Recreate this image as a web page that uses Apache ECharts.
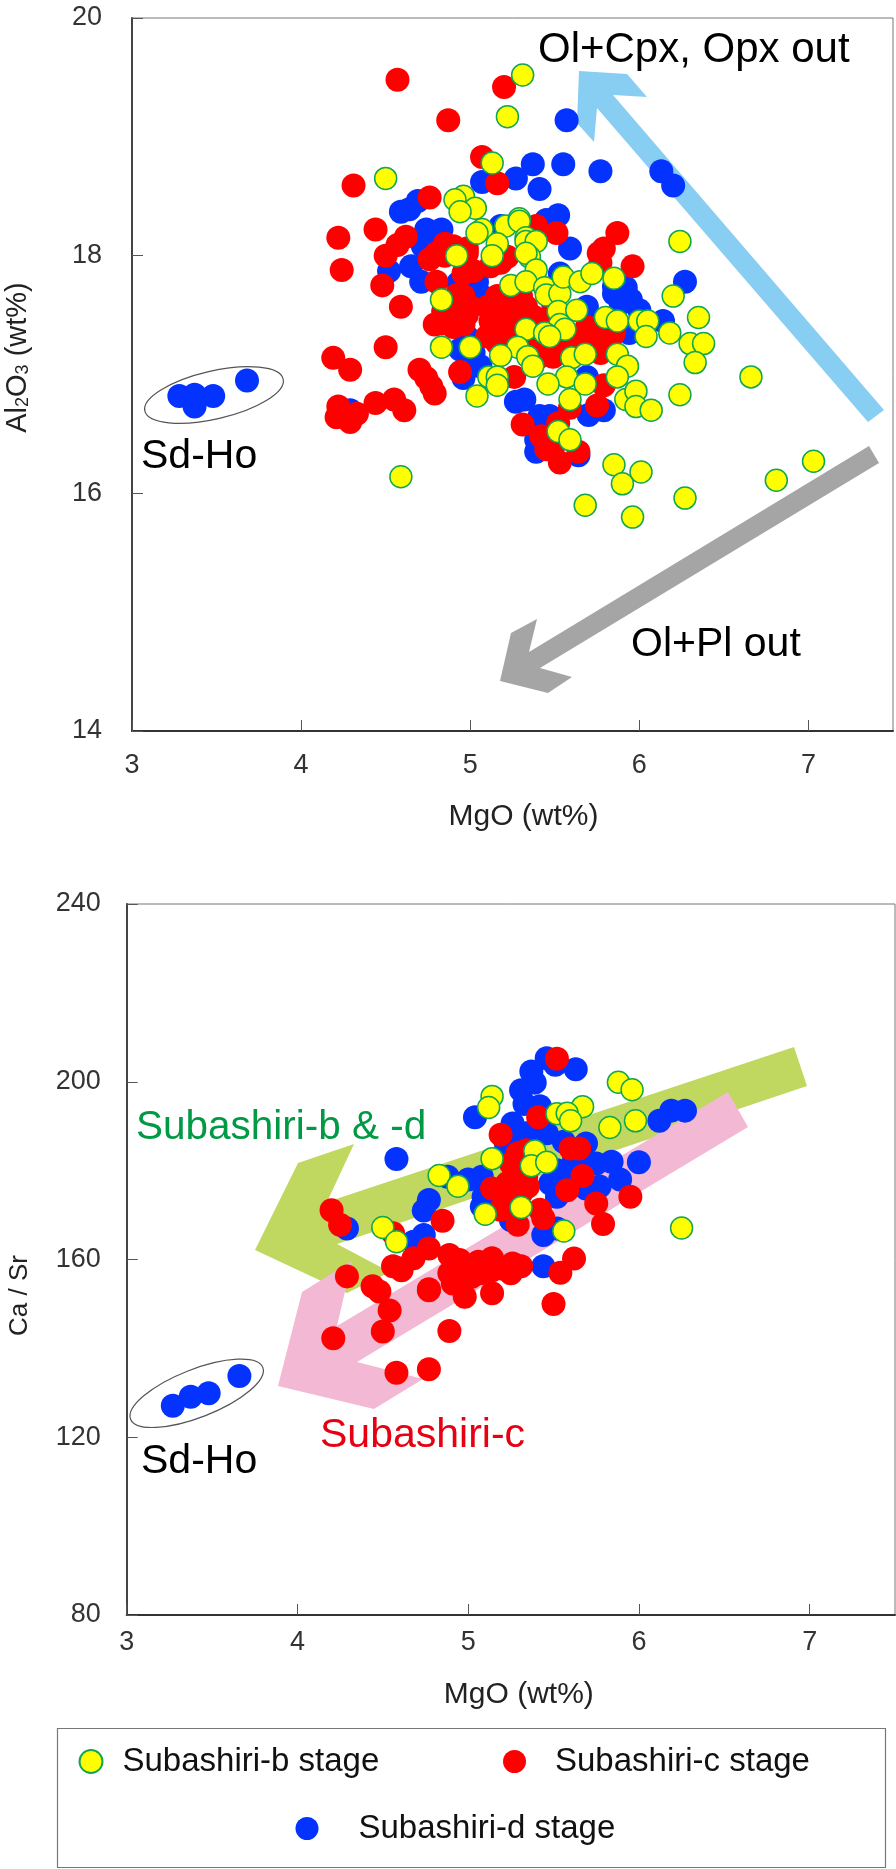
<!DOCTYPE html>
<html><head><meta charset="utf-8">
<style>html,body{margin:0;padding:0;background:#fff}#c{width:896px;height:1869px}</style>
<script src="https://cdn.jsdelivr.net/npm/echarts@6/dist/echarts.min.js"></script>
</head><body><div id="c"></div>
<script>
const xTicks=[3,4,5,6,7];
const yTicksAl=[14,16,18,20];
const yTicksCa=[80,120,160,200,240];
const stages=['Subashiri-b stage','Subashiri-c stage','Subashiri-d stage'];

// Upper panel: MgO (wt%), Al2O3 (wt%)
const alB=[[5.31,19.52],[5.22,19.17],[5.13,18.78],[4.50,18.65],[6.24,18.12],[4.96,18.50],[4.91,18.47],[5.03,18.40],[4.94,18.37],[5.07,18.22],[5.04,18.19],[5.21,18.25],[5.29,18.31],[5.29,18.29],[5.16,18.10],[5.13,18.00],[5.33,18.15],[5.33,18.12],[5.39,18.12],[5.35,17.99],[5.33,18.02],[5.39,17.88],[4.92,18.00],[5.24,17.75],[5.33,17.78],[5.44,17.73],[5.45,17.67],[5.53,17.68],[5.55,17.82],[5.65,17.78],[5.72,17.85],[5.85,17.81],[6.20,17.66],[4.83,17.63],[5.52,17.53],[5.63,17.54],[6.35,17.48],[5.80,17.48],[5.87,17.45],[6.00,17.45],[6.05,17.45],[6.18,17.35],[6.04,17.32],[5.53,17.42],[5.56,17.38],[5.33,17.38],[5.44,17.35],[5.47,17.32],[6.30,17.26],[6.38,17.26],[6.33,17.10],[4.83,17.23],[5.00,17.23],[5.28,17.23],[5.34,17.15],[5.37,17.07],[5.18,17.16],[5.60,17.14],[5.68,17.17],[5.87,17.17],[5.93,17.07],[5.87,16.98],[5.57,16.98],[5.68,16.92],[5.46,16.92],[5.11,16.98],[5.16,16.98],[5.16,16.91],[5.04,16.82],[6.24,16.83],[5.59,16.79],[5.92,16.79],[5.98,16.86],[5.98,16.73],[6.07,16.70],[5.52,16.52],[5.59,16.45],[5.85,16.24],[6.01,16.18],[5.90,16.08],[4.59,16.14],[5.68,15.90],[5.96,15.80],[6.27,15.96],[6.81,16.11],[7.03,16.27],[6.66,16.98]];
const alC=[[4.57,19.48],[5.20,19.42],[4.87,19.14],[5.07,18.83],[5.16,18.61],[4.31,18.59],[4.76,18.49],[4.44,18.22],[4.22,18.15],[4.62,18.16],[4.57,18.09],[4.50,18.00],[4.24,17.88],[4.48,17.75],[4.59,17.57],[5.39,18.25],[5.51,18.19],[5.87,18.19],[5.79,18.06],[5.76,18.02],[5.77,17.94],[5.96,17.91],[4.85,18.10],[4.98,18.06],[4.76,17.97],[4.85,18.00],[4.80,17.78],[5.02,17.87],[5.12,17.91],[5.22,17.99],[4.50,17.23],[4.19,17.14],[4.29,17.04],[4.70,17.04],[4.74,16.97],[4.79,16.84],[4.77,16.90],[4.94,17.02],[4.22,16.73],[4.21,16.64],[4.29,16.60],[4.33,16.67],[4.44,16.76],[4.55,16.79],[4.61,16.70],[4.96,17.66],[4.90,17.60],[4.98,17.50],[4.83,17.43],[4.96,17.42],[4.90,17.40],[4.86,17.50],[5.16,17.66],[5.12,17.45],[5.22,17.54],[5.33,17.57],[5.37,17.49],[5.16,17.26],[5.24,17.32],[5.41,17.23],[5.49,17.15],[5.53,17.18],[5.69,17.40],[5.81,17.46],[5.85,17.35],[5.77,17.18],[5.63,17.32],[5.26,16.98],[5.79,16.91],[5.75,16.74],[5.59,16.72],[5.31,16.58],[5.42,16.48],[5.52,16.59],[5.64,16.35],[5.53,16.26],[5.49,16.39],[5.45,16.37],[5.22,17.40],[5.30,17.46],[5.47,17.49],[5.57,17.29],[4.84,17.53],[4.92,17.67],[5.00,17.57],[4.79,17.42],[5.10,17.57],[5.18,17.49],[5.10,17.32],[5.30,17.66],[5.39,17.40],[5.33,17.29],[5.65,17.29],[5.73,17.32],[5.83,17.23],[5.69,17.23],[5.41,17.15],[4.90,18.08],[4.80,18.02],[4.98,18.02],[4.96,17.85],[5.18,17.94]];
const alD=[[3.28,16.82],[3.37,16.83],[3.48,16.82],[3.37,16.73],[3.68,16.95],[5.57,19.14],[5.37,18.77],[5.55,18.77],[5.77,18.71],[6.13,18.71],[6.20,18.59],[5.27,18.65],[5.07,18.62],[5.41,18.56],[4.69,18.46],[4.59,18.37],[4.64,18.39],[5.52,18.34],[5.59,18.06],[6.27,17.78],[4.74,18.22],[4.83,18.22],[4.72,18.08],[4.78,18.13],[4.52,17.87],[4.65,17.91],[4.71,17.78],[4.93,17.77],[5.04,17.78],[5.69,17.57],[6.00,17.54],[6.14,17.45],[5.85,17.74],[5.92,17.73],[5.95,17.63],[5.89,17.60],[5.18,18.25],[5.45,18.30],[5.53,17.85],[5.85,17.68],[5.94,17.35],[4.98,17.32],[4.94,17.21],[4.96,16.97],[5.02,17.18],[5.06,17.07],[5.69,16.98],[5.27,16.77],[5.32,16.79],[5.41,16.65],[5.47,16.65],[5.70,16.66],[5.79,16.70],[5.39,16.35],[5.64,16.32],[5.39,16.45],[4.29,16.70],[5.06,17.67],[5.26,17.65],[5.49,17.60]];

// Lower panel: MgO (wt%), Ca / Sr
const caB=[[5.14,196.7],[5.12,194.2],[5.88,199.9],[5.96,198.2],[5.67,194.4],[5.52,192.8],[5.58,192.9],[5.60,191.2],[5.83,189.7],[5.98,191.2],[5.39,184.4],[5.14,182.7],[5.37,181.1],[5.46,181.9],[4.83,178.9],[4.94,176.5],[5.10,170.2],[5.31,171.7],[5.56,166.4],[6.25,167.1],[4.50,167.2],[4.58,164.0]];
const caC=[[5.52,205.2],[5.41,192.0],[5.19,188.1],[5.60,185.0],[5.65,185.0],[5.34,184.6],[5.67,178.8],[5.58,175.6],[5.28,182.4],[5.27,179.4],[5.35,176.4],[5.14,176.0],[5.21,174.1],[5.19,171.2],[5.42,171.2],[5.44,169.3],[5.29,167.8],[5.75,172.6],[5.95,174.1],[5.79,168.0],[4.85,168.7],[5.62,160.2],[5.54,157.0],[5.50,150.0],[5.14,152.4],[4.98,151.6],[4.77,153.1],[4.77,162.5],[4.68,160.3],[4.60,158.0],[4.89,161.0],[4.95,159.9],[5.06,159.5],[5.14,160.3],[5.26,159.1],[5.31,158.5],[5.25,156.9],[5.14,157.6],[5.02,156.1],[4.91,156.1],[4.91,154.6],[4.96,158.0],[4.56,165.9],[4.20,171.1],[4.25,167.8],[4.56,158.5],[4.61,157.6],[4.29,156.2],[4.44,154.0],[4.48,152.8],[4.54,148.5],[4.50,143.8],[4.21,142.3],[4.89,143.9],[4.58,134.5],[4.77,135.3],[4.77,153.3],[5.25,181.6],[5.29,177.9],[5.34,178.6],[5.23,177.2],[5.31,174.9],[5.19,175.6],[5.27,173.4],[5.29,183.9],[5.02,158.4],[4.89,156.9],[5.07,156.9],[5.19,158.0]];
const caD=[[3.27,127.1],[3.375,129.1],[3.48,129.9],[3.66,133.8],[5.46,205.3],[5.63,202.8],[5.51,203.8],[5.37,202.3],[5.39,199.8],[5.31,198.1],[5.33,195.0],[5.42,194.5],[5.04,192.0],[5.26,190.6],[6.12,191.2],[6.19,193.5],[6.27,193.5],[6.00,181.9],[5.84,182.0],[5.89,178.0],[5.77,176.4],[5.69,176.0],[5.69,186.1],[5.56,186.5],[5.46,188.4],[5.34,188.4],[5.22,186.2],[5.75,181.6],[5.62,182.4],[5.52,180.1],[5.52,174.1],[5.48,177.1],[5.60,179.4],[5.44,165.5],[5.52,167.0],[5.44,158.5],[5.08,178.6],[5.00,178.0],[4.88,178.6],[5.09,174.1],[5.08,171.9],[5.25,168.9],[4.77,173.4],[4.74,171.0],[4.74,165.5],[4.68,164.0],[4.58,182.6],[4.29,167.0]];

const chart=echarts.init(document.getElementById('c'),null,{renderer:'canvas'});
const FONT='"Liberation Sans", Helvetica, Arial, sans-serif';
const COL={b:'#ffff00',bb:'#12a650',c:'#ff0000',d:'#0433ff'};

function xAxis(i,margin,nameGap,pad){return {
  gridIndex:i,type:'value',min:3,max:7.5,interval:1,name:'MgO (wt%)',nameLocation:'middle',nameGap:nameGap,
  nameTextStyle:{fontFamily:FONT,fontSize:30,color:'#222',padding:pad},
  axisLine:{show:true,onZero:false,lineStyle:{color:'#333',width:2}},
  axisTick:{show:true,inside:true,length:11,lineStyle:{color:'#555',width:1},customValues:xTicks},
  axisLabel:{margin:margin,fontFamily:FONT,fontSize:27,color:'#333',customValues:xTicks},
  splitLine:{show:false}};}
function yAxis(i,min,max,interval,ticks,name,size,margin,nameGap,pad){return {
  gridIndex:i,type:'value',min:min,max:max,interval:interval,name:name,nameLocation:'middle',nameGap:nameGap,
  nameTextStyle:{fontFamily:FONT,fontSize:size,color:'#222',padding:pad,rich:{sub:{fontFamily:FONT,fontSize:18,color:'#222',verticalAlign:'bottom',padding:[0,0,0,0]}}},
  axisLine:{show:true,onZero:false,lineStyle:{color:'#444',width:2}},
  axisTick:{show:true,inside:true,length:11,lineStyle:{color:'#555',width:1},customValues:ticks},
  axisLabel:{margin:margin,fontFamily:FONT,fontSize:27,color:'#333',customValues:ticks},
  splitLine:{show:false}};}
function series(name,i,data,kind){
  const st=kind==='b'?{color:COL.b,borderColor:COL.bb,borderWidth:1.5,opacity:1}:{color:COL[kind],opacity:1};
  return {name:name,type:'scatter',xAxisIndex:i,yAxisIndex:i,data:data,symbol:'circle',symbolSize:kind==='b'?22:24,itemStyle:st,z:kind==='b'?5:(kind==='c'?4:3),silent:true};
}
function poly(points,fill){return {type:'polygon',z:-1,silent:true,shape:{points:points},style:{fill:fill}};}
function ell(cx,cy,deg){return {type:'ellipse',z:-1,silent:true,x:cx,y:cy,rotation:deg*Math.PI/180,shape:{cx:0,cy:0,rx:71,ry:24},style:{fill:'none',stroke:'#555',lineWidth:1.2}};}
function txt(s,x,baseline,size,fill){return {type:'text',z:1,silent:true,x:x,y:baseline-0.28*size,style:{text:s,font:size+'px '+FONT,fill:fill,textVerticalAlign:'middle',textAlign:'left'}};}
function legend(i,left,top,pad){return {data:[stages[i]],left:left,top:top,padding:0,itemWidth:23,itemHeight:23,icon:'circle',selectedMode:false,itemStyle:{opacity:1},textStyle:{fontFamily:FONT,fontSize:33,color:'#111',padding:[8,0,0,pad]}};}

chart.setOption({
  animation:false,backgroundColor:'#fff',
  grid:[
    {left:132,top:18,width:761,height:713,show:true,borderColor:'#777',borderWidth:1,backgroundColor:'transparent',outerBoundsMode:'none'},
    {left:126.7,top:904,width:768.3,height:711,show:true,borderColor:'#777',borderWidth:1,backgroundColor:'transparent',outerBoundsMode:'none'}],
  xAxis:[xAxis(0,21,71,[0,0,0,22]),xAxis(1,14,65,[0,0,0,16])],
  yAxis:[
    yAxis(0,14,20,2,yTicksAl,'Al{sub|2}O{sub|3} (wt%)',29,30,100,[0,0,0,34]),
    yAxis(1,80,240,40,yTicksCa,'Ca / Sr',26,26,94,[0,72,0,0])],
  legend:[legend(0,78.5,1745,15),legend(1,503,1745,24),legend(2,295.5,1812,35)],
  series:[
    series(stages[2],0,alD,'d'),series(stages[1],0,alC,'c'),series(stages[0],0,alB,'b'),
    series(stages[2],1,caD,'d'),series(stages[1],1,caC,'c'),series(stages[0],1,caB,'b')],
  graphic:{elements:[
    poly([[579,71],[627,74],[647,97],[613,95],[884,410],[868,422],[597,108],[594,142],[577,123]],'#88cdf2'),
    poly([[869,446],[879,463],[540,668],[572,677],[548,693],[500,681],[511,633],[537,619],[529,652]],'#a5a5a6'),
    poly([[794,1047],[807,1086],[337,1244],[390,1272],[347,1293],[255,1250],[298,1163],[354,1144],[327,1202]],'#c0d760'),
    poly([[728,1092],[748,1127],[357,1362],[423,1379],[374,1409],[278,1386],[302,1292],[352,1261],[337,1326]],'#f3b8d3'),
    ell(214,395,13),ell(196.7,1393.3,21.4),
    txt('Ol+Cpx, Opx out',538,61.7,42,'#000'),
    txt('Ol+Pl out',631,656,41,'#000'),
    txt('Sd-Ho',141,468,41,'#000'),
    txt('Sd-Ho',141,1473,41,'#000'),
    txt('Subashiri-b & -d',136,1139,40.5,'#009944'),
    txt('Subashiri-c',320,1447,41,'#e60012'),
    {type:'rect',z:-1,silent:true,shape:{x:57.5,y:1728.5,width:828,height:139},style:{fill:'none',stroke:'#777',lineWidth:1.2}}
  ]}
});
</script></body></html>
